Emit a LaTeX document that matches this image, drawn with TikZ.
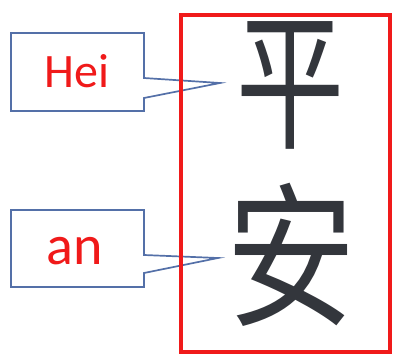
\documentclass[tikz,border=0pt]{standalone}
\usepackage{fontspec}
\setmainfont{Carlito}
\newfontfamily\cjk{Noto Sans CJK SC}
\definecolor{callblue}{HTML}{5470A8}
\definecolor{inkgray}{HTML}{33363C}
\definecolor{boxred}{HTML}{F01A1A}
\begin{document}
\begin{tikzpicture}[x=1pt,y=-1pt,
  callout/.style={draw=callblue, line width=1.7pt, fill=white, line join=miter},
  lbl/.style={text=boxred, inner sep=0pt, anchor=base},
  glyph/.style={text=inkgray, inner sep=0pt},
  frame/.style={draw=boxred, line width=4pt}]
\useasboundingbox (0,0) rectangle (393,356);
% callouts
\coordinate (tipA) at (220,83);
\coordinate (tipB) at (218,258);
\draw[callout] (11,33) -- (144,33) -- (144,78) -- (tipA) -- (144,98) -- (144,111) -- (11,111) -- cycle;
\draw[callout] (11,210) -- (144,210) -- (144,255) -- (tipB) -- (144,273) -- (144,287) -- (11,287) -- cycle;
\node[lbl, font=\fontsize{48}{48}\selectfont] (hei) at (77,87) {Hei};
\node[lbl, font=\fontsize{56}{56}\selectfont] (an) at (75,264) {an};
% frame
\node[frame, minimum width=209pt, minimum height=337pt, inner sep=0pt] (box) at (285.5,183.5) {};
% characters
\node[glyph] (ping) at (290,85) {\scalebox{0.72}[1]{\cjk\fontsize{150}{150}\selectfont 平}};
\node[glyph] (an2) at (291,255) {\scalebox{0.83}[1]{\cjk\fontsize{156}{156}\selectfont 安}};
\end{tikzpicture}
\end{document}
